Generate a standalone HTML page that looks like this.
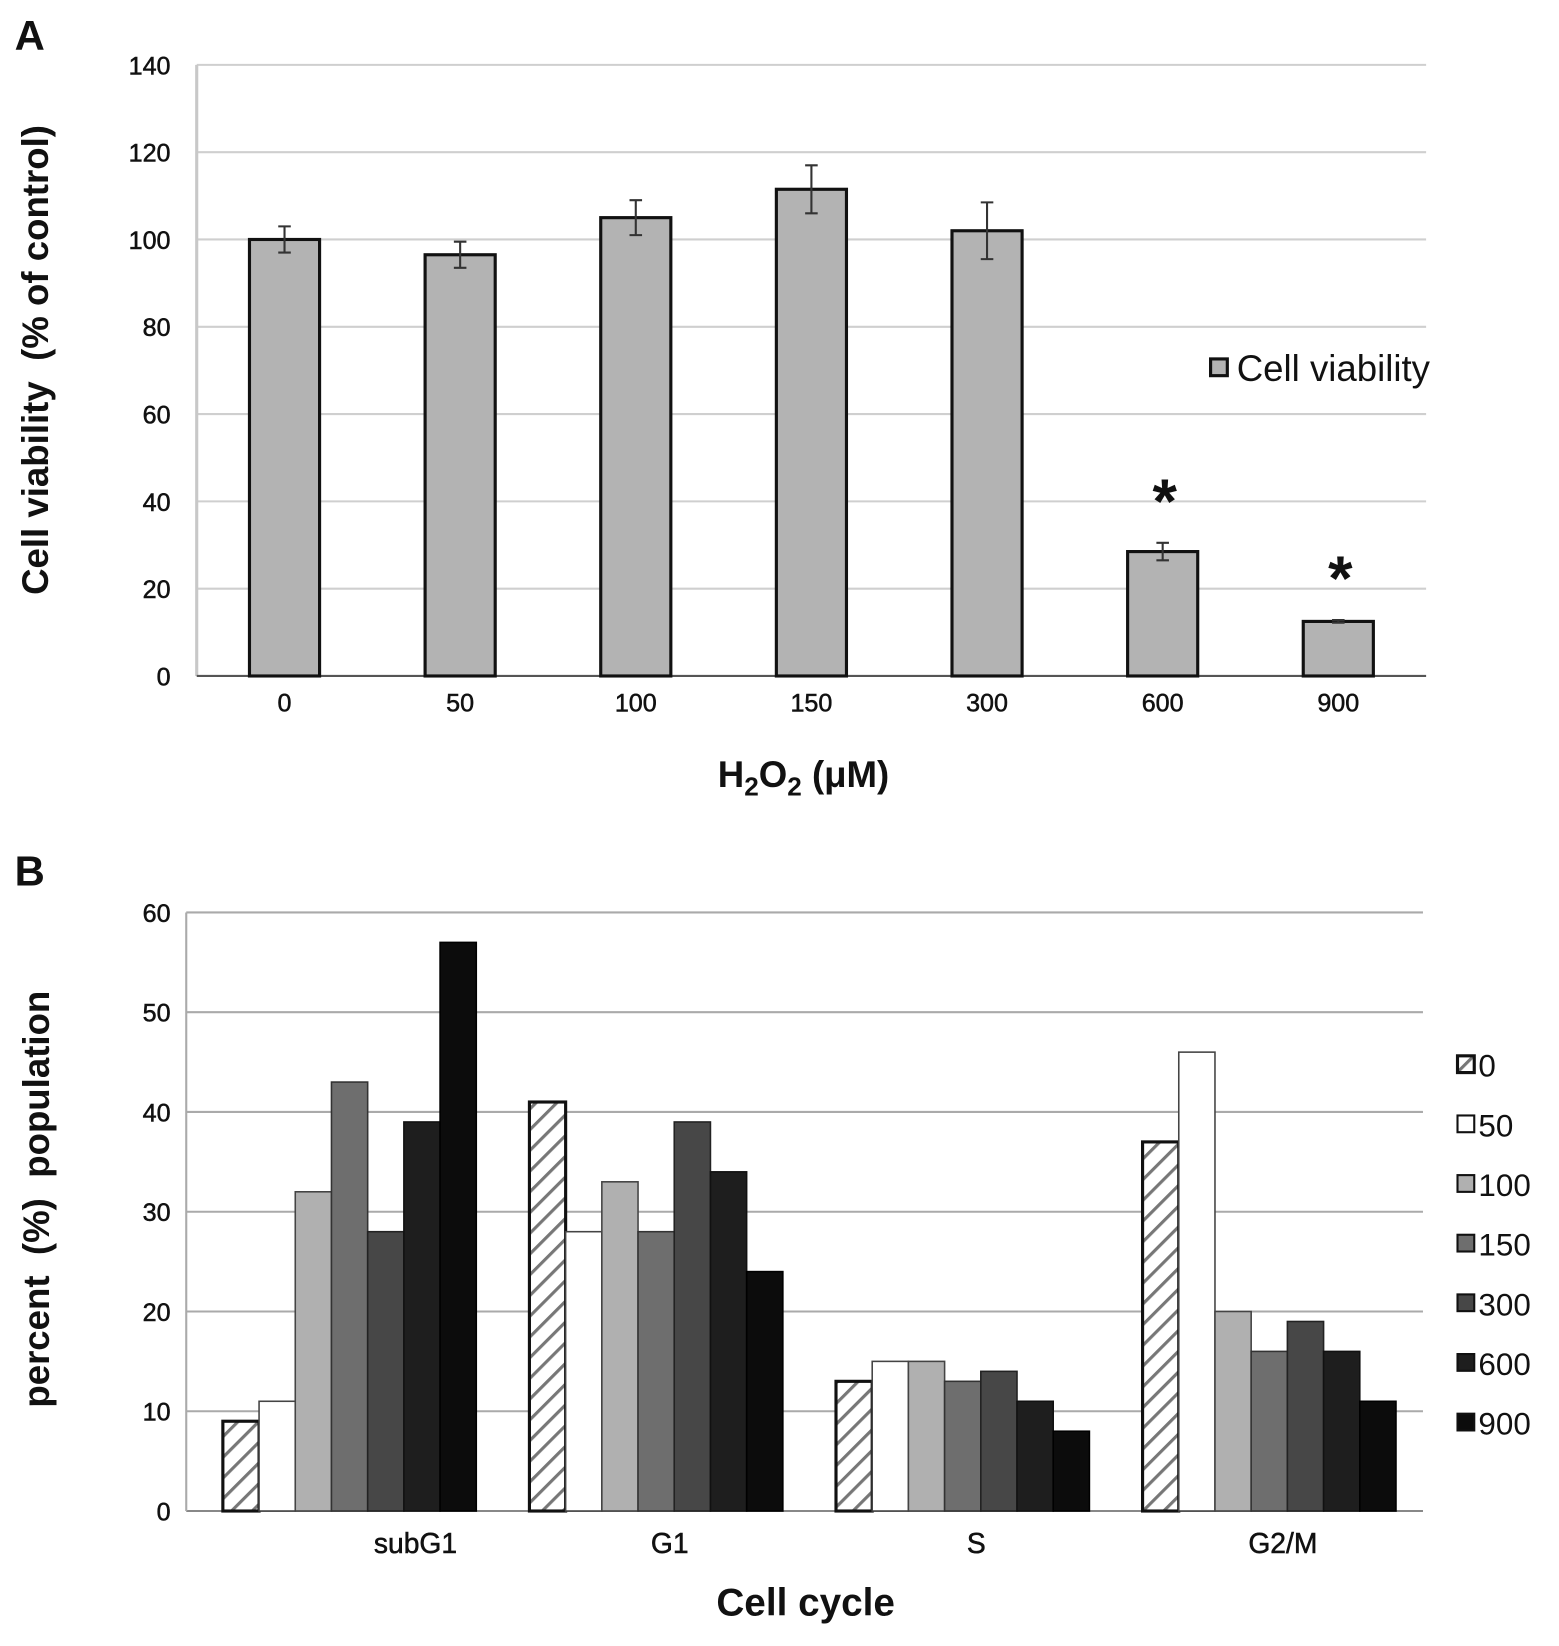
<!DOCTYPE html>
<html><head><meta charset="utf-8"><style>
html,body{margin:0;padding:0;background:#fff}
svg{display:block}
text{font-family:"Liberation Sans",Arial,sans-serif;fill:#111}
</style></head>
<body>
<svg id="fig" width="1559" height="1646" viewBox="0 0 1490 1573" preserveAspectRatio="none" xmlns="http://www.w3.org/2000/svg">
<defs>
<pattern id="hatch" patternUnits="userSpaceOnUse" width="14" height="14" patternTransform="rotate(45)">
<rect width="14" height="14" fill="#fff"/>
<rect x="0" y="0" width="3" height="14" fill="#777"/>
</pattern>
</defs>
<g id="chartA"></g>
<g id="chartB"></g>
</svg>
<script>
// ---- Chart A data ----
const aCategories = ["0","50","100","150","300","600","900"];
const aValues = [100, 96.5, 105, 111.5, 102, 28.5, 12.5];
const aErrors = [3, 3, 4, 5.5, 6.5, 2, 0.3];
const aSignificant = [false,false,false,false,false,true,true];
const aTicks = [0,20,40,60,80,100,120,140];

// ---- Chart B data ----
const bCategories = ["subG1","G1","S","G2/M"];
const bSeriesNames = ["0","50","100","150","300","600","900"];
const bSeries0 = [9, 41, 13, 37];
const bSeries50 = [11, 28, 15, 46];
const bSeries100 = [32, 33, 15, 20];
const bSeries150 = [43, 28, 13, 16];
const bSeries300 = [28, 39, 14, 19];
const bSeries600 = [39, 34, 11, 16];
const bSeries900 = [57, 24, 8, 11];
const bTicks = [0,10,20,30,40,50,60];

const NS = "http://www.w3.org/2000/svg";
function mk(parent, tag, attrs, txt){
  const e = document.createElementNS(NS, tag);
  for (const k in attrs) e.setAttribute(k, attrs[k]);
  if (txt !== undefined) e.textContent = txt;
  parent.appendChild(e);
  return e;
}

// ===== Chart A =====
(function(){
  const g = document.getElementById('chartA');
  const left = 188, right = 1363, y0 = 646, yTop = 62, maxV = 140;
  const y = v => y0 - (v / maxV) * (y0 - yTop);
  const band = (right - left) / aCategories.length;
  const xc = i => left + band * (i + 0.5);
  const bw = 67;
  let t = mk(g,'text',{x:14,y:48,'font-size':40,'font-weight':'bold'},'A');
  
  
  aTicks.forEach(v => {
    if (v > 0) {
      const l = mk(g,'line',{x1:left,x2:right,y1:y(v),y2:y(v),stroke:'#cfcfcf','stroke-width':2});
      
      
    }
    const tl = mk(g,'text',{x:163,y:y(v)+9,'font-size':24,'text-anchor':'end','stroke':'#111','stroke-width':0.5},String(v));
    
    
  });
  let ax = mk(g,'line',{x1:left,x2:left,y1:yTop,y2:y0,stroke:'#c8c8c8','stroke-width':3});
  
  
  let bx = mk(g,'line',{x1:left,x2:right,y1:y0,y2:y0,stroke:'#555','stroke-width':2});
  
  
  aCategories.forEach((c,i) => {
    const v = aValues[i], e = aErrors[i], cx = xc(i);
    const r = mk(g,'rect',{x:cx-bw/2,y:y(v),width:bw,height:y0-y(v),fill:'#b3b3b3',stroke:'#111','stroke-width':3});
    
    
    const eg = mk(g,'path',{d:`M${cx},${y(v+e)}V${y(v-e)}M${cx-6},${y(v+e)}H${cx+6}M${cx-6},${y(v-e)}H${cx+6}`,stroke:'#333','stroke-width':2,fill:'none'});
    
    
    const tl = mk(g,'text',{x:cx,y:680,'font-size':24,'text-anchor':'middle','stroke':'#111','stroke-width':0.5},c);
    
    
    if (aSignificant[i]) {
      const s = mk(g,'text',{x:cx+2,y:y(v+e)-55+36,'font-size':60,'font-weight':'bold','text-anchor':'middle'},'*');
      
      
    }
  });
  let yt = mk(g,'text',{x:0,y:0,'font-size':35,'font-weight':'bold','text-anchor':'middle',transform:'translate(46,344) rotate(-90)'},'Cell viability\u00a0\u00a0(% of control)');
  
  
  let xt = mk(g,'text',{x:686,y:752,'font-size':35,'font-weight':'bold'});
  
  
  xt.innerHTML = 'H<tspan font-size="25" dy="8">2</tspan><tspan dy="-8">O</tspan><tspan font-size="25" dy="8">2</tspan><tspan dy="-8"> (μM)</tspan>';
  let lb = mk(g,'rect',{x:1157,y:343,width:16,height:16,fill:'#b3b3b3',stroke:'#111','stroke-width':3});
  
  
  let lt = mk(g,'text',{x:1182,y:364,'font-size':35},'Cell viability');
  
  
})();

// ===== Chart B =====
(function(){
  const g = document.getElementById('chartB');
  const series = [bSeries0,bSeries50,bSeries100,bSeries150,bSeries300,bSeries600,bSeries900];
  const fills = ['url(#hatch)','#ffffff','#b0b0b0','#6e6e6e','#474747','#1e1e1e','#0c0c0c'];
  const strokes = ['#111','#444','#444','#333','#222','#111','#000'];
  const left = 178, right = 1360, y0 = 1444, yTop = 872, maxV = 60;
  const y = v => y0 - (v / maxV) * (y0 - yTop);
  const groupStart = i => 213 + i * 293;
  const bw = 34.6;
  let t = mk(g,'text',{x:14,y:846,'font-size':40,'font-weight':'bold'},'B');
  
  
  bTicks.forEach(v => {
    const l = mk(g,'line',{x1:left,x2:right,y1:y(v),y2:y(v),stroke:v===0?'#888':'#aaa','stroke-width':2});
    
    
    const tl = mk(g,'text',{x:163,y:y(v)+9,'font-size':24,'text-anchor':'end','stroke':'#111','stroke-width':0.5},String(v));
    
    
  });
  let ax = mk(g,'line',{x1:left,x2:left,y1:yTop,y2:y0,stroke:'#aaa','stroke-width':2});
  
  
  bCategories.forEach((c,i) => {
    series.forEach((s,k) => {
      const v = s[i];
      const r = mk(g,'rect',{x:groupStart(i)+k*bw,y:y(v),width:bw,height:y0-y(v),fill:fills[k],stroke:strokes[k],'stroke-width':k===0?3:1.5});
      
      
    });
    const cx = groupStart(i) + bw*3.5 + (i===0?63:13);
    const tl = mk(g,'text',{x:cx,y:1484,'font-size':27,'text-anchor':'middle','stroke':'#111','stroke-width':0.5},c);
    
    
  });
  let yt = mk(g,'text',{x:0,y:0,'font-size':35,'font-weight':'bold','text-anchor':'middle',transform:'translate(47,1146) rotate(-90)'},'percent\u00a0\u00a0(%)\u00a0\u00a0population');
  
  
  let xt = mk(g,'text',{x:770,y:1544,'font-size':37,'font-weight':'bold','text-anchor':'middle'},'Cell cycle');
  
  
  bSeriesNames.forEach((n,k) => {
    const ly = 1018 + k*57;
    const sw = mk(g,'rect',{x:1393,y:ly-9,width:16,height:16,fill:fills[k],stroke:'#111','stroke-width':k===0?3:2});
    
    
    const lt = mk(g,'text',{x:1413,y:ly+11,'font-size':30},n);
    
    
  });
})();
</script>
</body></html>
